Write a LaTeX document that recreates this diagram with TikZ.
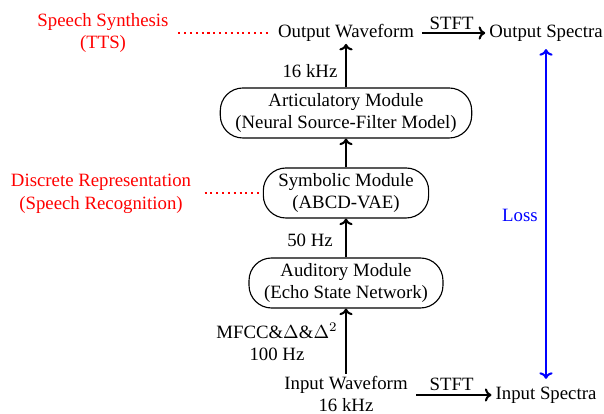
\documentclass[tikz,border=0pt]{standalone}
\usepackage{fontspec}
\setmainfont{Liberation Serif}
\usetikzlibrary{arrows.meta}
\begin{document}
\begin{tikzpicture}[x=0.532pt,y=-0.532pt,
  modbox/.style={draw,rounded corners=12pt,align=center,inner xsep=8pt,inner ysep=0pt,minimum height=26.6pt,line width=0.6pt},
  plain/.style={align=center,inner sep=1pt},
  redtxt/.style={align=center,text=red,inner sep=1pt},
  arr/.style={-{To[length=3.5pt,width=7pt]},line width=1.1pt},
  dots/.style={red,dotted,line width=1.1pt}]
\useasboundingbox (0,0) rectangle (604,414);
\node[plain,anchor=center] (ow) at (346,33) {Output Waveform};
\node[plain] (os) at (546,33) {Output Spectra};
\node[redtxt] (ss) at (103,33) {Speech Synthesis\\(TTS)};
\node[modbox] (art) at (346,113) {Articulatory Module\\(Neural Source-Filter Model)};
\node[modbox] (sym) at (346,193) {Symbolic Module\\(ABCD-VAE)};
\node[redtxt] (dr) at (101,194) {Discrete Representation\\(Speech Recognition)};
\node[modbox] (aud) at (346,283) {Auditory Module\\(Echo State Network)};
\node[plain] (iw) at (346,394) {Input Waveform\\16 kHz};
\node[plain] (is) at (546,395) {Input Spectra};
\node[blue] (loss) at (520,215) {Loss};
\node[plain] (lhz) at (310,71) {16 kHz};
\node[plain] (l50) at (310,240) {50 Hz};
\node[plain] (lmf) at (277,342) {MFCC\&$\Delta$\&$\Delta^2$\\100 Hz};
\draw[arr] (iw.north) -- (aud.south);
\draw[arr] (aud.north) -- (sym.south);
\draw[arr] (sym.north) -- (art.south);
\draw[arr] (art.north) -- (ow.south);
\draw[arr,shorten <=3pt,shorten >=1pt] (ow.east) -- node[above,inner sep=1pt]{STFT} (os.west);
\draw[arr,shorten <=3.5pt,shorten >=1pt] (iw.east |- is.west) -- node[above,inner sep=2pt]{STFT} (is.west);
\draw[{To[length=3.5pt,width=7pt]}-{To[length=3.5pt,width=7pt]},line width=1.1pt,blue] ([yshift=-3pt]os.south) -- ([yshift=3pt]is.north);
\draw[dots] ([xshift=4pt]ss.east |- ow) -- ([xshift=-4pt]ow.west);
\draw[dots] ([xshift=6pt]dr.east |- sym) -- (sym.west);
\end{tikzpicture}
\end{document}
